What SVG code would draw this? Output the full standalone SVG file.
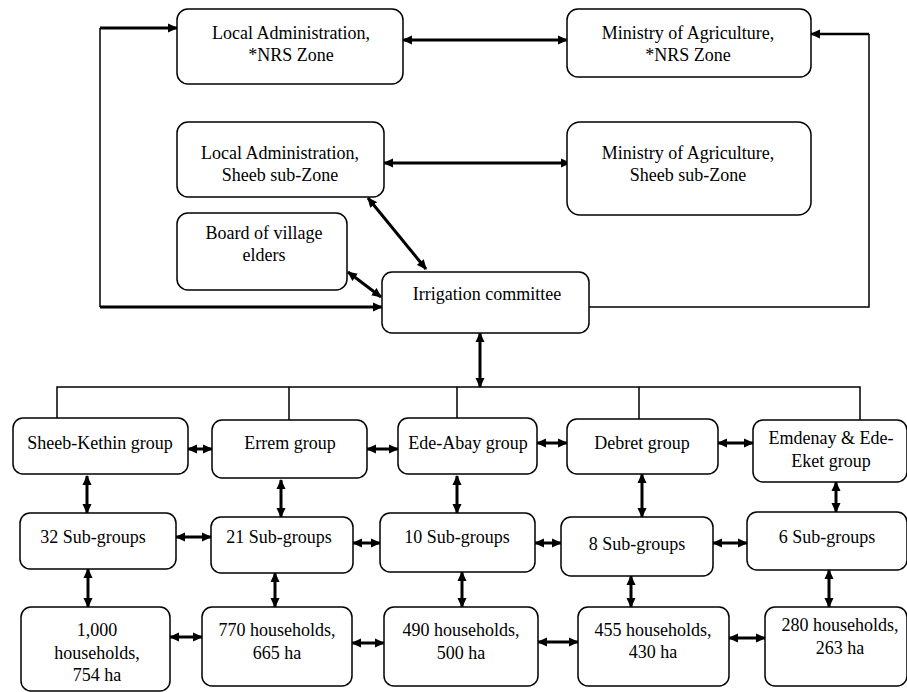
<svg xmlns="http://www.w3.org/2000/svg" width="907" height="692" viewBox="0 0 907 692">
<style>
.box{fill:#fff;stroke:#000;stroke-width:1.5}
text{font-family:'Liberation Serif','DejaVu Serif',serif;font-size:18px;fill:#000;text-anchor:middle}
.a{fill:none;stroke:#000;stroke-width:3;marker-start:url(#ah);marker-end:url(#ah)}
.s{fill:none;stroke:#000;stroke-width:3;marker-end:url(#ah)}
.t{fill:none;stroke:#000;stroke-width:1.5}
</style>
<defs>
<marker id="ah" markerUnits="userSpaceOnUse" markerWidth="10" markerHeight="10" refX="9" refY="5" orient="auto-start-reverse" viewBox="0 0 10 10">
<path d="M0,0.5 L10,5 L0,9.5 z" fill="#000"/>
</marker>
</defs>
<g id="connectors">
<path class="s" d="M100,28 H177"/>
<path class="t" d="M100,28 V307"/>
<path class="s" d="M100,307 H382"/>
<path class="s" d="M869,34 H811" style="stroke-width:2.5"/>
<path class="t" d="M869,34 V307 H589"/>
<path class="a" d="M403,40 H567"/>
<path class="a" d="M384,163 H570"/>
<path class="a" d="M368,198 L426,269"/>
<path class="a" d="M348,272 L381,297"/>
<path class="a" d="M480,333 V387"/>
<path class="t" d="M57,418 V387 H860 V420 M289,387 V420 M457,387 V418 M639,387 V419"/>
<path class="a" d="M188,449 H212"/>
<path class="a" d="M367,449 H398"/>
<path class="a" d="M537,443 H567"/>
<path class="a" d="M718,443 H753"/>
<path class="a" d="M87,476 V513"/>
<path class="a" d="M281,480 V517"/>
<path class="a" d="M457,476 V513"/>
<path class="a" d="M642,474 V517"/>
<path class="a" d="M836,482 V512"/>
<path class="a" d="M176,537 H211"/>
<path class="a" d="M353,543 H380"/>
<path class="a" d="M535,543 H561"/>
<path class="a" d="M713,543 H747"/>
<path class="a" d="M88,569 V607"/>
<path class="a" d="M275,573 V607"/>
<path class="a" d="M462,572 V607"/>
<path class="a" d="M631,576 V607"/>
<path class="a" d="M829,570 V607"/>
<path class="a" d="M170,637 H202"/>
<path class="a" d="M352,643 H384"/>
<path class="a" d="M538,642 H578"/>
<path class="a" d="M729,638 H765"/>
</g>
<g id="la-nrs"><rect class="box" x="177" y="9" width="226" height="75" rx="11"/><text x="291" y="39">Local Administration,</text><text x="291" y="61">*NRS Zone</text></g>
<g id="ma-nrs"><rect class="box" x="567" y="9" width="244" height="68" rx="11"/><text x="688" y="39">Ministry of Agriculture,</text><text x="688" y="61">*NRS Zone</text></g>
<g id="la-sheeb"><rect class="box" x="177" y="122" width="207" height="75" rx="11"/><text x="280" y="159">Local Administration,</text><text x="280" y="181">Sheeb sub-Zone</text></g>
<g id="ma-sheeb"><rect class="box" x="567" y="122" width="244" height="93" rx="13"/><text x="688" y="159">Ministry of Agriculture,</text><text x="688" y="181">Sheeb sub-Zone</text></g>
<g id="board"><rect class="box" x="177" y="213" width="170" height="77" rx="11"/><text x="264" y="239">Board of village</text><text x="264" y="261">elders</text></g>
<g id="irrigation"><rect class="box" x="382" y="272" width="207" height="61" rx="10"/><text x="487" y="300">Irrigation committee</text></g>
<g id="sheeb-kethin"><rect class="box" x="13" y="418" width="175" height="56" rx="10"/><text x="100" y="449">Sheeb-Kethin group</text></g>
<g id="errem"><rect class="box" x="212" y="420" width="155" height="58" rx="10"/><text x="290" y="449">Errem group</text></g>
<g id="ede-abay"><rect class="box" x="398" y="418" width="139" height="56" rx="10"/><text x="468" y="449">Ede-Abay group</text></g>
<g id="debret"><rect class="box" x="567" y="419" width="151" height="55" rx="10"/><text x="642" y="449">Debret group</text></g>
<g id="emdenay"><rect class="box" x="753" y="420" width="154" height="62" rx="10"/><text x="831" y="444">Emdenay &amp; Ede-</text><text x="831" y="467">Eket group</text></g>
<g id="sg32"><rect class="box" x="20" y="513" width="156" height="56" rx="10"/><text x="93" y="543">32 Sub-groups</text></g>
<g id="sg21"><rect class="box" x="211" y="517" width="142" height="56" rx="10"/><text x="279" y="543">21 Sub-groups</text></g>
<g id="sg10"><rect class="box" x="380" y="513" width="155" height="59" rx="10"/><text x="457" y="543">10 Sub-groups</text></g>
<g id="sg8"><rect class="box" x="561" y="517" width="152" height="59" rx="10"/><text x="637" y="550">8 Sub-groups</text></g>
<g id="sg6"><rect class="box" x="747" y="512" width="160" height="58" rx="10"/><text x="827" y="543">6 Sub-groups</text></g>
<g id="hh1000"><rect class="box" x="21" y="607" width="149" height="84" rx="10"/><text x="97" y="636">1,000</text><text x="97" y="659">households,</text><text x="97" y="681">754 ha</text></g>
<g id="hh770"><rect class="box" x="202" y="607" width="150" height="79" rx="10"/><text x="277" y="636">770 households,</text><text x="277" y="659">665 ha</text></g>
<g id="hh490"><rect class="box" x="384" y="607" width="154" height="79" rx="10"/><text x="461" y="636">490 households,</text><text x="461" y="659">500 ha</text></g>
<g id="hh455"><rect class="box" x="578" y="607" width="151" height="79" rx="10"/><text x="653" y="636">455 households,</text><text x="653" y="658">430 ha</text></g>
<g id="hh280"><rect class="box" x="765" y="607" width="142" height="79" rx="10"/><text x="840" y="631">280 households,</text><text x="840" y="654">263 ha</text></g>
</svg>
